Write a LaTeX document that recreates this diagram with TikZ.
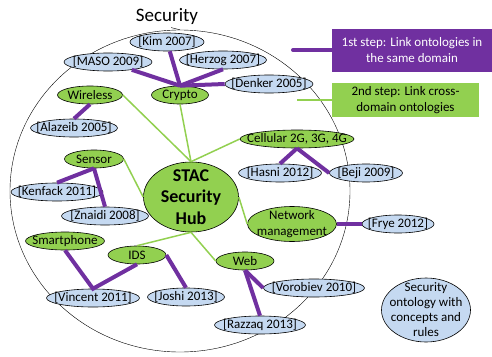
\documentclass[tikz,border=0pt]{standalone}
\usepackage{fontspec}
\setmainfont{Carlito}
\usetikzlibrary{shapes.geometric,positioning}
\definecolor{paperblue}{HTML}{C5D9F1}
\definecolor{domgreen}{HTML}{92D050}
\definecolor{steppurple}{HTML}{7030A0}
\begin{document}
\begin{tikzpicture}[x=1pt,y=-1pt,
  every node/.style={font=\fontsize{13}{15.6}\selectfont},
  oval/.style={draw, ellipse, line width=0.6pt, inner xsep=-20pt, inner ysep=-10pt, minimum height=18pt, align=center},
  paper/.style={oval, fill=paperblue},
  area/.style={oval, fill=domgreen},
  link/.style={steppurple, line width=4pt},
  cross/.style={domgreen, line width=1.5pt}]
\useasboundingbox (0,0) rectangle (492,356);
\node[draw, ellipse, inner sep=0pt, minimum width=340pt, minimum height=322pt] (ring) at (180,191) {};
\node[font=\fontsize{19}{22}\selectfont] (title) at (167,16) {Security};
\draw (title.290) -- (ring.north);
\node[paper, minimum width=74pt] (kim) at (167,42) {[Kim 2007]};
\node[paper, minimum width=88pt] (maso) at (108,62) {[MASO 2009]};
\node[paper, minimum width=87pt] (herzog) at (223,60) {[Herzog 2007]};
\node[paper, minimum width=88pt] (denker) at (269,84) {[Denker 2005]};
\node[area, minimum width=57pt] (crypto) at (180,95) {Crypto};
\node[area, minimum width=65pt] (wireless) at (90,95) {Wireless};
\node[paper, minimum width=87pt] (alazeib) at (74,128) {[Alazeib 2005]};
\node[area, minimum width=59pt] (sensor) at (94,159) {Sensor};
\node[paper, minimum width=92pt] (kenfack) at (57,192) {[Kenfack 2011]};
\node[paper, minimum width=87pt] (znaidi) at (105,216) {[Znaidi 2008]};
\node[area, minimum width=95pt, minimum height=70pt, font=\bfseries\fontsize{18}{21.5}\selectfont] (hub) at (191,197) {STAC\\Security\\Hub};
\node[area, minimum width=79pt] (smart) at (65,241) {Smartphone};
\node[area, minimum width=58pt] (ids) at (137,255) {IDS};
\node[paper, minimum width=93pt] (vincent) at (93,298) {[Vincent 2011]};
\node[paper, minimum width=77pt] (joshi) at (186,297) {[Joshi 2013]};
\node[area, minimum width=58pt] (web) at (245,261) {Web};
\node[paper, minimum width=101pt] (vorobiev) at (314,288) {[Vorobiev 2010]};
\node[paper, minimum width=91pt] (razzaq) at (260,325) {[Razzaq 2013]};
\node[area, minimum width=89pt, minimum height=35pt, font=\fontsize{13}{16}\selectfont] (net) at (292,224) {Network\\management};
\node[paper, minimum width=72pt] (frye) at (398,224) {[Frye 2012]};
\node[area, minimum width=114pt] (cell) at (297,139) {Cellular 2G, 3G, 4G};
\node[paper, minimum width=83pt] (hasni) at (280,173) {[Hasni 2012]};
\node[paper, minimum width=73pt] (beji) at (366,173) {[Beji 2009]};
\node[paper, minimum width=89pt, minimum height=64pt, font=\fontsize{13}{15}\selectfont] (onto) at (426,310) {Security\\ontology with\\concepts and\\rules};
\node[fill=steppurple, text=white, minimum width=160pt, minimum height=43pt, align=center] (step1) at (412,50) {1st step: Link ontologies in\\the same domain};
\node[fill=domgreen, minimum width=147pt, minimum height=32pt, align=center, font=\fontsize{13}{16}\selectfont] (step2) at (405.5,100) {2nd step: Link cross-\\domain ontologies};
\coordinate (s1) at (293,50);
\coordinate (s2) at (297,100);
\draw[link, line cap=round] (s1) -- (step1.west);
\draw[cross] (s2) -- (step2.west);
\draw[link] (crypto.north) -- (kim);
\draw[link] (crypto.north) -- (maso);
\draw[link] (crypto.north) -- (herzog.south);
\draw[link] (crypto.north) -- (denker.west);
\draw[link] (wireless.south) -- (alazeib.north);
\draw[link] (sensor.south) -- (kenfack.north);
\draw[link] (sensor.south) -- (znaidi.north);
\draw[link] (smart.south) -- (vincent.north) -- (ids.south);
\draw[link] (ids.east) -- (joshi.north);
\draw[link] (web.south) -- (vorobiev.west);
\draw[link] (web.south) -- (razzaq.north);
\draw[link] (net.east) -- (frye.west);
\draw[link] (cell.south) -- (hasni.north);
\draw[link] (cell.south) -- (beji.west);
\draw[cross] (hub.north) -- (wireless.east);
\draw[cross] (hub.north) -- (crypto.south);
\draw[cross] (hub.north) -- (cell.west);
\draw[cross] (hub.west) -- (sensor.east);
\draw[cross] (hub.east) -- (net.west);
\draw[cross] (hub.south) -- (ids.north);
\draw[cross] (hub.south) -- (web.west);
\end{tikzpicture}
\end{document}
